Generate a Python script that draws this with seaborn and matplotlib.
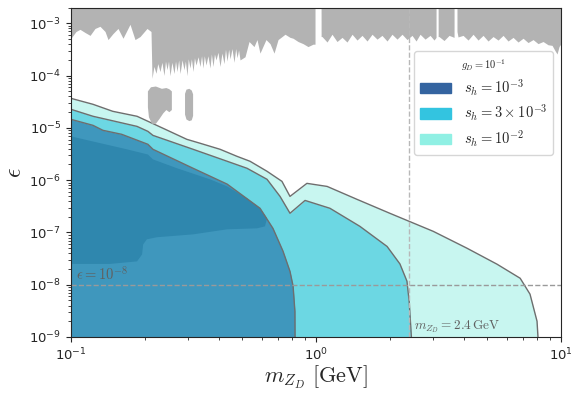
import numpy as np
import pandas as pd
import matplotlib
matplotlib.use("Agg")
import matplotlib.pyplot as plt
import seaborn as sns
from matplotlib.patches import Patch
from matplotlib.font_manager import FontProperties

# ---------------- data ----------------
# s_h = 1e-2 (lightest) upper boundary
m_light = [0.100, 0.123, 0.148, 0.186, 0.206, 0.238, 0.297, 0.336, 0.406, 0.476,
           0.538, 0.631, 0.726, 0.783, 0.918, 1.11, 1.47, 2.00, 3.01, 4.13,
           5.48, 6.81, 7.47, 7.98, 8.05]
eps_light = [3.68e-5, 2.83e-5, 2.08e-5, 1.67e-5, 1.34e-5, 9.8e-6, 6.05e-6, 5.1e-6, 3.9e-6, 2.86e-6,
             2.3e-6, 1.48e-6, 9.5e-7, 4.9e-7, 8.7e-7, 7.6e-7, 4.3e-7, 2.33e-7, 1.05e-7, 5.0e-8,
             2.47e-8, 1.33e-8, 6.6e-9, 2.0e-9, 1.0e-9]

# s_h = 3e-3 (middle) upper boundary
m_mid = [0.100, 0.123, 0.151, 0.186, 0.206, 0.216, 0.315, 0.434, 0.523, 0.631,
         0.713, 0.783, 0.902, 1.14, 1.51, 1.95, 2.20, 2.35, 2.40, 2.45]
eps_mid = [2.27e-5, 1.67e-5, 1.34e-5, 1.07e-5, 8.6e-6, 7.2e-6, 3.9e-6, 2.3e-6, 1.69e-6, 1.04e-6,
           4.9e-7, 2.33e-7, 4.1e-7, 2.9e-7, 1.31e-7, 5.4e-8, 2.5e-8, 1.17e-8, 4.8e-9, 1.0e-9]

# s_h = 1e-3 (dark) upper boundary
m_dark = [0.100, 0.123, 0.135, 0.161, 0.206, 0.216, 0.315, 0.434, 0.591, 0.667,
          0.733, 0.783, 0.806, 0.820, 0.821]
eps_dark = [1.46e-5, 1.12e-5, 9.0e-6, 7.55e-6, 4.86e-6, 3.9e-6, 1.69e-6, 8.4e-7, 2.9e-7, 1.2e-7,
            4.4e-8, 1.8e-8, 9.4e-9, 3.1e-9, 1.0e-9]

# inner (overlap) darker patch, closed outline
m_inner = [0.100, 0.123, 0.169, 0.206, 0.216, 0.271, 0.369, 0.434, 0.523, 0.591, 0.631,
           0.619, 0.574, 0.434, 0.315, 0.224, 0.204, 0.197, 0.195, 0.186, 0.144, 0.100]
eps_inner = [6.9e-6, 5.5e-6, 3.9e-6, 3.1e-6, 2.5e-6, 1.69e-6, 1.04e-6, 7.6e-7, 4.5e-7, 2.9e-7, 1.87e-7,
             1.31e-7, 1.2e-7, 1.15e-7, 9.2e-8, 8.1e-8, 7.4e-8, 5.9e-8, 3.8e-8, 2.8e-8, 2.5e-8, 2.5e-8]

# existing exclusion (gray) lower boundary; 1e-2 marks gaps that reach the top
m_gray = [0.100, 0.1048, 0.1088, 0.1141, 0.1196, 0.1253, 0.1313, 0.1377, 0.1416, 0.1484,
          0.1555, 0.1630, 0.1741, 0.1825, 0.1913, 0.2042, 0.2121, 0.2141, 0.2180, 0.2223,
          0.2260, 0.2308, 0.2350, 0.2396, 0.2430, 0.2465, 0.2500, 0.2535, 0.2580, 0.2633,
          0.2670, 0.2708, 0.2750, 0.2786, 0.2840, 0.2892, 0.2930, 0.2975, 0.3010, 0.3059,
          0.3100, 0.3148, 0.3190, 0.3237, 0.3300, 0.3361, 0.3410, 0.3457, 0.3500, 0.3556,
          0.3620, 0.3693, 0.3740, 0.3798, 0.3850, 0.3906, 0.3980, 0.4056, 0.4130, 0.4212,
          0.4270, 0.4332, 0.4400, 0.4457, 0.4540, 0.4627, 0.4700, 0.4760, 0.4830, 0.4896,
          0.5131, 0.5328, 0.5583, 0.5742, 0.5905, 0.6248, 0.6490, 0.6740, 0.6998, 0.7265,
          0.7472, 0.7832, 0.8057, 0.8444, 0.8850, 0.9275, 0.9723, 0.9906, 0.9907, 1.048,
          1.049, 1.058, 1.109, 1.162, 1.218, 1.277, 1.338, 1.403, 1.470, 1.541,
          1.615, 1.693, 1.774, 1.859, 1.949, 2.042, 2.141, 2.244, 2.352, 2.465,
          2.560, 2.658, 2.786, 2.920, 3.031, 3.089, 3.090, 3.150, 3.151, 3.177,
          3.330, 3.491, 3.659, 3.660, 3.760, 3.761, 3.798, 3.981, 4.173, 4.374,
          4.584, 4.805, 5.035, 5.278, 5.533, 5.799, 6.077, 6.370, 6.676, 6.998,
          7.334, 7.687, 8.057, 8.445, 8.851, 9.190, 9.452, 9.632, 9.813, 10.0]
eps_gray = [5.2e-4, 7.0e-4, 7.7e-4, 6.7e-4, 5.9e-4, 8.0e-4, 8.8e-4, 7.0e-4, 4.9e-4, 6.4e-4,
            8.0e-4, 5.2e-4, 9.6e-4, 4.9e-4, 5.6e-4, 8.0e-4, 7.0e-4, 8.9e-5, 1.5e-4, 1.11e-4,
            1.7e-4, 1.2e-4, 1.8e-4, 1.01e-4, 1.9e-4, 1.3e-4, 1.9e-4, 1.0e-4, 1.8e-4, 1.1e-4,
            1.9e-4, 1.2e-4, 2.0e-4, 1.1e-4, 2.0e-4, 1.3e-4, 1.9e-4, 1.0e-4, 2.1e-4, 1.4e-4,
            2.1e-4, 1.2e-4, 2.2e-4, 1.6e-4, 2.3e-4, 1.5e-4, 2.4e-4, 1.4e-4, 2.4e-4, 1.6e-4,
            2.4e-4, 1.4e-4, 2.6e-4, 1.5e-4, 2.6e-4, 2.0e-4, 2.8e-4, 1.5e-4, 2.7e-4, 1.7e-4,
            3.2e-4, 1.9e-4, 3.2e-4, 2.1e-4, 3.3e-4, 1.8e-4, 3.3e-4, 2.2e-4, 3.1e-4, 2.0e-4,
            2.3e-4, 4.5e-4, 3.6e-4, 4.9e-4, 2.7e-4, 4.9e-4, 4.1e-4, 2.7e-4, 4.9e-4, 5.6e-4,
            6.2e-4, 5.4e-4, 5.2e-4, 4.5e-4, 4.1e-4, 3.6e-4, 4.0e-4, 4.0e-4, 1e-2, 1e-2,
            5.6e-4, 5.6e-4, 4.4e-4, 6.2e-4, 4.5e-4, 5.4e-4, 4.4e-4, 6.2e-4, 4.8e-4, 5.9e-4,
            4.6e-4, 6.2e-4, 5.0e-4, 5.9e-4, 4.6e-4, 6.2e-4, 5.0e-4, 6.2e-4, 4.9e-4, 5.9e-4,
            4.6e-4, 6.2e-4, 5.0e-4, 5.9e-4, 4.8e-4, 5.4e-4, 1e-2, 1e-2, 5.6e-4, 5.6e-4,
            4.7e-4, 5.9e-4, 5.4e-4, 1e-2, 1e-2, 7.0e-4, 5.5e-4, 5.9e-4, 4.8e-4, 6.2e-4,
            4.8e-4, 5.9e-4, 4.6e-4, 5.6e-4, 4.8e-4, 5.9e-4, 4.6e-4, 5.4e-4, 4.4e-4, 5.2e-4,
            4.3e-4, 4.9e-4, 4.1e-4, 4.5e-4, 3.9e-4, 3.8e-4, 3.0e-4, 2.6e-4, 3.6e-4, 4.1e-4]

# gray islands
m_blob1 = [0.206, 0.212, 0.222, 0.235, 0.245, 0.252, 0.258, 0.258, 0.252, 0.245, 0.238, 0.230, 0.222, 0.214, 0.208, 0.206]
eps_blob1 = [5.0e-5, 6.0e-5, 6.2e-5, 5.6e-5, 5.8e-5, 5.5e-5, 5.0e-5, 2.2e-5, 2.0e-5, 2.2e-5, 1.9e-5, 1.5e-5, 1.2e-5, 1.2e-5, 1.6e-5, 2.5e-5]
m_blob2 = [0.292, 0.296, 0.304, 0.311, 0.315, 0.315, 0.311, 0.304, 0.296, 0.292]
eps_blob2 = [4.5e-5, 5.4e-5, 5.6e-5, 5.2e-5, 4.4e-5, 1.7e-5, 1.4e-5, 1.35e-5, 1.45e-5, 1.8e-5]

legend_labels = [r"$s_h = 10^{-3}$", r"$s_h = 3\times10^{-3}$", r"$s_h = 10^{-2}$"]
legend_colors = ["#3464a0", "#33c4e0", "#90f0e4"]
legend_title = r"$g_D = 10^{-1}$"
eps_ref = 1e-8
m_ref = 2.4

# ---------------- plot ----------------
sns.set_style("ticks")
plt.rcParams["font.family"] = ["DejaVu Sans"]
plt.rcParams["mathtext.fontset"] = "dejavusans"

fig = plt.figure(figsize=(5.82, 3.93), dpi=100)
ax = fig.add_axes([0.122, 0.1425, 0.842, 0.838])
ax.set_xscale("log")
ax.set_yscale("log")
ax.set_xlim(0.1, 10)
ax.set_ylim(1e-9, 2e-3)

floor = 1e-9
edge = "#6e6e6e"
ax.fill_between(m_light, eps_light, floor, color="#c8f6f0", lw=0, zorder=1)
ax.fill_between(m_mid, eps_mid, floor, color="#6cd7e3", lw=0, zorder=2)
ax.fill_between(m_dark, eps_dark, floor, color="#3f97bd", lw=0, zorder=3)
ax.fill(m_inner, eps_inner, color="#2f87ae", lw=0, zorder=4)

df_lines = pd.concat([
    pd.DataFrame({"m": m_light, "eps": eps_light, "s": "light"}),
    pd.DataFrame({"m": m_mid, "eps": eps_mid, "s": "mid"}),
    pd.DataFrame({"m": m_dark, "eps": eps_dark, "s": "dark"}),
])
sns.lineplot(data=df_lines, x="m", y="eps", units="s", estimator=None, sort=False,
             color=edge, lw=1.0, ax=ax, zorder=5, legend=False)

gray = "#b3b3b3"
ax.fill_between(m_gray, eps_gray, 1e-2, color=gray, lw=0, zorder=2)
ax.fill(m_blob1, eps_blob1, color=gray, lw=0, zorder=6)
ax.fill(m_blob2, eps_blob2, color=gray, lw=0, zorder=6)

ax.axhline(eps_ref, color="#9a9a9a", ls="--", lw=1.0, zorder=7)
ax.axvline(m_ref, color="#b8b8b8", ls="--", lw=1.0, zorder=7)
ax.text(0.1045, 1.25e-8, r"$\epsilon = 10^{-8}$", color="#606060", fontsize=10.5,
        math_fontfamily="cm", zorder=8)
ax.text(2.5, 1.4e-9, r"$m_{Z_D} = 2.4\,\mathrm{GeV}$", color="#606060", fontsize=9.5,
        math_fontfamily="cm", zorder=8)

ax.set_xlabel(r"$m_{Z_D}\ [\mathrm{GeV}]$", fontsize=16, math_fontfamily="cm", labelpad=0)
ax.set_ylabel(r"$\epsilon$", fontsize=17, math_fontfamily="cm", labelpad=2)
ax.tick_params(axis="both", labelsize=9.5)

handles = [Patch(facecolor=c, edgecolor=c) for c in legend_colors]
prop = FontProperties(size=10.5, math_fontfamily="cm")
leg = ax.legend(handles, legend_labels, loc="upper right", bbox_to_anchor=(0.984, 0.868),
                borderaxespad=0, prop=prop, title=legend_title, frameon=True, fancybox=True,
                handlelength=2.1, handleheight=0.75, borderpad=0.4, labelspacing=0.35,
                handletextpad=0.9)
leg.get_title().set_fontproperties(FontProperties(size=7.5, math_fontfamily="cm"))
leg.get_frame().set_edgecolor("#cccccc")
leg.set_zorder(10)

for sp in ax.spines.values():
    sp.set_zorder(11)

fig.savefig("out.png", dpi=100)
